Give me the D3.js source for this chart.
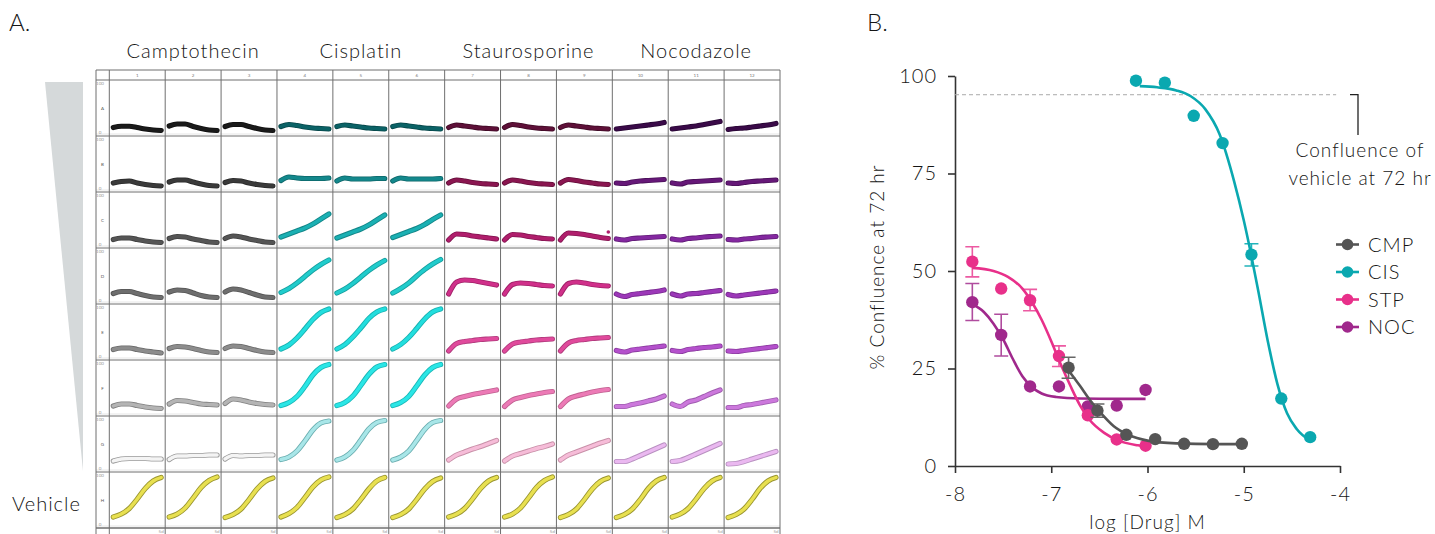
<!DOCTYPE html>
<html>
<head>
<meta charset="utf-8">
<script src="https://cdn.jsdelivr.net/npm/d3@7"></script>
<style>
  body { margin: 0; background: #fff; }
  svg { display: block; font-family: Lato, "Open Sans", sans-serif; font-weight: 300; }
</style>
</head>
<body>
<svg id="fig" width="1435" height="534"></svg>
<script>
// ---------- panel A: % confluence per well over 72 h ----------
const timeH = [0, 12, 24, 36, 48, 60, 72];
const plateRows = ['A', 'B', 'C', 'D', 'E', 'F', 'G', 'H'];
const plateCols = d3.range(1, 13);
const drugNames = ['Camptothecin', 'Cisplatin', 'Staurosporine', 'Nocodazole'];

// rows A..G, three replicate wells each
const cmpWells = [
  [[11,13.5,13.5,11,8,6,5], [14,18,18,13,9,6,5], [13,17,17,13,9,6,5]],
  [[12,15,16,12,9,7,6], [14,18,18,14,10,7,6], [13,17,16,12,9,7,6]],
  [[11,14,14,11,8,6,5], [13,17,16,12,9,6,5], [13,18,16,12,9,6,5]],
  [[15,19,19,15,11,8,7], [18,22,21,16,11,8,7], [18,24,22,17,12,8,7]],
  [[15,18,18,15,12,10,8], [17,21,20,17,13,10,9], [17,22,21,17,13,10,9]],
  [[14,18,18,15,12,10,9], [18,25,24,21,18,17,16], [19,28,26,22,19,17,16]],
  [[16,20,21,21,21,20,20], [19,26,26,27,27,28,28], [20,27,26,27,27,28,28]]
];
const cisWells = [
  [[13,17,15,12,10,9,8], [13,16,14,12,10,9,8], [13,16,14,12,10,9,8]],
  [[17,24,22,21,21,21,22], [16,22,20,20,20,21,21], [16,22,20,20,20,20,21]],
  [[16,22,28,34,42,52,62], [14,20,26,32,40,50,60], [15,21,27,33,41,51,60]],
  [[17,25,36,49,62,73,82], [16,24,35,48,61,72,81], [16,25,36,50,63,74,83]],
  [[16,24,38,56,75,89,96], [16,25,40,58,77,90,96], [16,25,39,57,76,90,96]],
  [[15,21,33,53,76,91,97], [15,21,34,55,77,92,97], [15,21,33,54,76,91,97]],
  [[19,24,36,56,78,92,96], [18,24,37,58,80,93,97], [18,24,36,57,79,93,97]]
];
const stpWells = [
  [[11,16,14,12,10,9,8], [11,17,15,12,10,9,8], [11,16,14,12,10,9,8]],
  [[12,18,16,13,11,10,9], [12,18,16,13,11,10,9], [12,19,17,14,12,10,9]],
  [[10,22,21,18,16,14,12], [10,21,20,17,15,13,12], [10,24,23,21,18,15,13]],
  [[14,38,42,41,38,35,32], [14,33,36,35,33,31,30], [14,35,38,36,33,31,30]],
  [[12,27,31,33,35,36,37], [12,26,30,32,34,35,36], [12,28,33,35,37,38,39]],
  [[14,28,33,37,40,43,46], [13,26,31,35,38,41,43], [13,28,34,38,42,45,47]],
  [[18,28,34,40,45,51,57], [16,26,31,36,41,45,50], [18,28,34,40,46,52,57]]
];
const nocWells = [
  [[8,10,12,14,16,18,21], [8,10,12,14,17,20,23], [7,9,10,12,14,16,19]],
  [[12,11,14,16,17,18,19], [12,10,14,15,16,17,18], [12,11,13,15,16,17,18]],
  [[12,10,13,14,15,16,17], [12,10,13,14,16,17,18], [11,10,12,13,15,16,17]],
  [[14,9,13,15,17,19,22], [14,10,14,15,17,19,21], [13,10,12,14,16,18,20]],
  [[13,10,14,16,18,20,22], [13,11,15,17,19,20,22], [12,11,13,15,17,19,21]],
  [[13,13,17,20,24,28,34], [18,13,22,26,33,40,46], [11,11,15,17,20,23,26]],
  [[15,15,20,27,34,41,48], [15,17,23,30,37,44,51], [10,11,15,20,25,30,35]]
];
// row H, one well per column
const vehicleWells = [
  [16,22,33,52,73,88,95], [16,22,34,54,75,89,96], [15,21,32,51,72,87,94],
  [16,23,35,55,76,90,96], [15,21,32,51,72,88,95], [15,21,32,51,72,87,94],
  [16,22,33,52,73,88,95], [16,22,34,54,75,89,96], [15,21,32,51,72,87,94],
  [15,21,32,51,73,88,95], [16,22,33,52,73,88,95], [15,21,32,51,73,88,95]
];
// a lone late point in well C9
const strayPoints = [{ row: 'C', col: 9, t: 72, v: 26 }];

// shades, dark (high dose, row A) to pale (row G)
const cmpFill = ['#1a1a1a','#3a3a3a','#555555','#6e6e6e','#8c8c8c','#b4b4b4','#f4f4f4'];
const cmpEdge = ['#111111','#2a2a2a','#404040','#555555','#6a6a6a','#808080','#9a9a9a'];
const cisFill = ['#0b6266','#13888c','#1ab0b3','#20cccc','#22dede','#2ae6e6','#a8e6e8'];
const cisEdge = ['#07484b','#0d6669','#138688','#17a0a0','#18b0b0','#1ab8b8','#6aaeb0'];
const stpFill = ['#5e1038','#8a1650','#b01e6c','#d0308a','#e04a9c','#ec7ab6','#f6bcd8'];
const stpEdge = ['#400a26','#640f3a','#851552','#a02168','#b03a7c','#c06090','#c890a8'];
const nocFill = ['#3a0a48','#661878','#8428a0','#9c38b8','#b450cc','#cc78dc','#eab8f0'];
const nocEdge = ['#280634','#4a1058','#621c78','#782890','#8c3ca0','#a05cb0','#b890c0'];
const vehicleFill = '#e8e050', vehicleEdge = '#9a9530';

// ---------- panel B: dose response at 72 h ----------
const cmpDose = [-6.82,-6.52,-6.22,-5.92,-5.62,-5.32,-5.02];
const cmpConf = [25.2,14.2,8.0,6.9,5.7,5.6,5.7];
const cisDose = [-6.12,-5.82,-5.52,-5.22,-4.92,-4.61,-4.31];
const cisConf = [98.8,98.3,89.8,82.8,54.2,17.3,7.4];
const stpDose = [-7.82,-7.52,-7.22,-6.92,-6.62,-6.32,-6.02];
const stpConf = [52.4,45.5,42.5,28.2,13.0,6.8,5.2];
const nocDose = [-7.82,-7.52,-7.22,-6.92,-6.62,-6.32,-6.02];
const nocConf = [42.0,33.6,20.4,20.4,15.3,15.5,19.5];

// error bars [dose, low, high]
const cmpErr = [[-6.82,22.5,27.9], [-6.52,12.5,15.9]];
const cisErr = [[-4.92,51.3,57.0]];
const stpErr = [[-7.82,48.5,56.2], [-7.22,39.8,45.3], [-6.92,25.5,30.8]];
const nocErr = [[-7.82,37.3,46.8], [-7.52,28.2,38.9]];

// fitted curves
const cmpFit = [[-6.82,24.5],[-6.7,20.5],[-6.6,17],[-6.5,14],[-6.35,10.2],[-6.2,8],[-6.0,6.5],[-5.7,5.8],[-5.3,5.6],[-5.0,5.6]];
const cisFit = [[-6.08,97.4],[-5.9,97.1],[-5.7,96.3],[-5.55,94.8],[-5.4,91.5],[-5.25,85],[-5.1,73],[-5.0,63],[-4.93,55],[-4.85,45],[-4.75,32],[-4.65,21],[-4.55,13.5],[-4.45,9.5],[-4.31,6.5]];
const stpFit = [[-7.82,50.8],[-7.6,50],[-7.45,48.5],[-7.3,45.5],[-7.2,42],[-7.1,37.5],[-7.0,32],[-6.9,26],[-6.8,20.5],[-6.7,15.5],[-6.6,11.8],[-6.45,8.5],[-6.3,6.5],[-6.1,5.3],[-6.02,5.0]];
const nocFit = [[-7.82,41.5],[-7.7,39.5],[-7.6,36.5],[-7.5,32.5],[-7.4,27.5],[-7.3,23],[-7.2,20.2],[-7.1,18.6],[-6.95,17.7],[-6.7,17.3],[-6.3,17.2],[-6.02,17.2]];

const vehicleLevel = 95.2;
const seriesNames = ['CMP', 'CIS', 'STP', 'NOC'];
const seriesColors = ['#555555', '#0aa8b0', '#e8308a', '#a0288c'];
const errColors = ['#666666', '#22b4bb', '#ec5aa2', '#b04c9e'];
const yTicks = [0, 25, 50, 75, 100];
const xTicks = [-8, -7, -6, -5, -4];

const svg = d3.select('#fig');
const ink = '#151515';

// ================= panel A =================
svg.append('text').attr('x', 9).attr('y', 31).attr('font-size', 24).attr('fill', ink).text('A.');

const colX = d3.scaleBand().domain(plateCols).range([109.3, 780]);
const rowY = d3.scaleBand().domain(plateRows).range([80, 528]);
const cellT = d3.scaleLinear().domain([0, 72]).range([4, colX.bandwidth() - 4]);
const cellV = d3.scaleLinear().domain([0, 100]).range([rowY.bandwidth() - 3, 3]);

// drug headers over column triplets
drugNames.forEach((name, i) => {
  const cx = (colX(i * 3 + 1) + colX(i * 3 + 3) + colX.bandwidth()) / 2;
  svg.append('text').attr('x', cx).attr('y', 58).attr('text-anchor', 'middle')
    .attr('font-size', 20).attr('letter-spacing', 1).attr('fill', ink).text(name);
});

// dose wedge and vehicle label
svg.append('path').attr('d', 'M45,82 L83,82 L83,471 Z').attr('fill', '#d5d9da');
svg.append('text').attr('x', 12).attr('y', 511).attr('font-size', 20).attr('letter-spacing', 1)
  .attr('fill', ink).text('Vehicle');

const plate = svg.append('g');

// faint baseline in each row
plate.selectAll('line.base').data(plateRows).join('line')
  .attr('x1', 96).attr('x2', 780)
  .attr('y1', r => rowY(r) + cellV(0) + 1).attr('y2', r => rowY(r) + cellV(0) + 1)
  .attr('stroke', '#e6e6e6').attr('stroke-width', 1);

// grid
const gridColor = '#6f6f6f';
plate.selectAll('line.v').data([...plateCols.map(c => colX(c)), 780]).join('line')
  .attr('x1', d => d).attr('x2', d => d).attr('y1', 70).attr('y2', 534)
  .attr('stroke', gridColor).attr('stroke-width', 1);
plate.append('line').attr('x1', 96).attr('x2', 96).attr('y1', 70).attr('y2', 534)
  .attr('stroke', gridColor);
plate.selectAll('line.h').data([70, ...plateRows.map(r => rowY(r)), 528]).join('line')
  .attr('x1', 96).attr('x2', 780).attr('y1', d => d).attr('y2', d => d)
  .attr('stroke', gridColor).attr('stroke-width', d => d === 528 ? 1.3 : 1);

// tiny plate labels
const tiny = plate.append('g').attr('font-size', 4.5).attr('font-weight', 400)
  .attr('fill', '#777').attr('text-anchor', 'middle');
tiny.selectAll('text.col').data(plateCols).join('text')
  .attr('x', c => colX(c) + colX.bandwidth() / 2).attr('y', 77).text(c => c);
plateRows.forEach(r => {
  const top = rowY(r);
  tiny.append('text').attr('x', 102.5).attr('y', top + rowY.bandwidth() / 2 + 2).attr('fill', '#555').text(r);
  tiny.append('text').attr('x', 100).attr('y', top + 5).attr('fill', '#999').text('100');
  tiny.append('text').attr('x', 100).attr('y', top + cellV(0) + 1).attr('fill', '#999').text('0');
});
tiny.selectAll('text.end').data(plateCols).join('text')
  .attr('x', c => colX(c) + colX.bandwidth() - 4).attr('y', 533).attr('fill', '#999').text('5d');

// well traces
const wellLine = d3.line().x((d, i) => cellT(timeH[i])).y(d => cellV(d)).curve(d3.curveMonotoneX);
const groups = [
  { wells: cmpWells, fill: cmpFill, edge: cmpEdge },
  { wells: cisWells, fill: cisFill, edge: cisEdge },
  { wells: stpWells, fill: stpFill, edge: stpEdge },
  { wells: nocWells, fill: nocFill, edge: nocEdge }
];
const traces = [];
groups.forEach((g, gi) => {
  g.wells.forEach((rowWells, ri) => {
    rowWells.forEach((vals, k) => {
      traces.push({ row: plateRows[ri], col: gi * 3 + k + 1, vals, fill: g.fill[ri], edge: g.edge[ri] });
    });
  });
});
vehicleWells.forEach((vals, i) => traces.push({ row: 'H', col: i + 1, vals, fill: vehicleFill, edge: vehicleEdge }));

const tg = plate.selectAll('g.well').data(traces).join('g')
  .attr('transform', d => `translate(${colX(d.col)},${rowY(d.row)})`);
tg.append('path').attr('d', d => wellLine(d.vals)).attr('fill', 'none')
  .attr('stroke', d => d.edge).attr('stroke-width', 5.2).attr('stroke-linecap', 'round');
tg.append('path').attr('d', d => wellLine(d.vals)).attr('fill', 'none')
  .attr('stroke', d => d.fill).attr('stroke-width', 3.4).attr('stroke-linecap', 'round');

plate.selectAll('circle.stray').data(strayPoints).join('circle')
  .attr('cx', d => colX(d.col) + cellT(d.t)).attr('cy', d => rowY(d.row) + cellV(d.v))
  .attr('r', 1.8).attr('fill', stpFill[2]);

// ================= panel B =================
svg.append('text').attr('x', 867).attr('y', 31).attr('font-size', 24).attr('fill', ink).text('B.');

const x = d3.scaleLinear().domain([-8, -4]).range([955, 1340]);
const y = d3.scaleLinear().domain([0, 100]).range([466, 76]);

const yAxis = svg.append('g').attr('transform', `translate(${x(-8)},0)`)
  .call(d3.axisLeft(y).tickValues(yTicks).tickSize(7).tickSizeOuter(0).tickPadding(11));
const xAxis = svg.append('g').attr('transform', `translate(0,${y(0)})`)
  .call(d3.axisBottom(x).tickValues(xTicks).tickSize(7).tickSizeOuter(0).tickPadding(14)
    .tickFormat(d => String(d)));
[yAxis, xAxis].forEach(a => {
  a.select('.domain').attr('stroke', '#333').attr('stroke-width', 1.6);
  a.selectAll('.tick line').attr('stroke', '#333').attr('stroke-width', 1.6);
  a.selectAll('.tick text').attr('font-size', 20).attr('font-family', 'Lato, sans-serif')
    .attr('font-weight', 300).attr('letter-spacing', 1).attr('fill', ink);
});

svg.append('text').attr('x', (x(-8) + x(-4)) / 2).attr('y', 529).attr('text-anchor', 'middle')
  .attr('font-size', 19).attr('letter-spacing', 1).attr('fill', ink).text('log [Drug] M');
svg.append('text').attr('transform', `translate(884,${(y(0) + y(100)) / 2 - 4}) rotate(-90)`)
  .attr('text-anchor', 'middle').attr('font-size', 19).attr('letter-spacing', 1)
  .attr('fill', ink).text('% Confluence at 72 hr');

// vehicle reference line and note
svg.append('line').attr('x1', x(-8)).attr('x2', x(-4.04)).attr('y1', y(vehicleLevel)).attr('y2', y(vehicleLevel))
  .attr('stroke', '#aaa').attr('stroke-width', 1).attr('stroke-dasharray', '4,3');
svg.append('path').attr('d', `M1350,${y(vehicleLevel)} H1358 V135`)
  .attr('fill', 'none').attr('stroke', '#222').attr('stroke-width', 1.3);
svg.append('text').attr('x', 1360).attr('y', 157).attr('text-anchor', 'middle')
  .attr('font-size', 19).attr('letter-spacing', 1).attr('fill', ink).text('Confluence of');
svg.append('text').attr('x', 1360).attr('y', 185).attr('text-anchor', 'middle')
  .attr('font-size', 19).attr('letter-spacing', 1).attr('fill', ink).text('vehicle at 72 hr');

const fitLine = d3.line().x(d => x(d[0])).y(d => y(d[1])).curve(d3.curveMonotoneX);
const series = [
  { dose: cmpDose, conf: cmpConf, err: cmpErr, fit: cmpFit },
  { dose: cisDose, conf: cisConf, err: cisErr, fit: cisFit },
  { dose: stpDose, conf: stpConf, err: stpErr, fit: stpFit },
  { dose: nocDose, conf: nocConf, err: nocErr, fit: nocFit }
];
// draw order: CIS, NOC, STP, CMP (grey sits over pink near the crossing)
[1, 3, 2, 0].forEach(i => {
  const s = series[i];
  const g = svg.append('g');
  g.selectAll('path.err').data(s.err).join('path')
    .attr('d', d => `M${x(d[0]) - 7},${y(d[2])} H${x(d[0]) + 7} M${x(d[0])},${y(d[2])} V${y(d[1])} M${x(d[0]) - 7},${y(d[1])} H${x(d[0]) + 7}`)
    .attr('fill', 'none').attr('stroke', errColors[i]).attr('stroke-width', 1.6);
  g.append('path').attr('d', fitLine(s.fit)).attr('fill', 'none')
    .attr('stroke', seriesColors[i]).attr('stroke-width', 2.6);
  g.selectAll('circle').data(s.dose.map((d, k) => [d, s.conf[k]])).join('circle')
    .attr('cx', d => x(d[0])).attr('cy', d => y(d[1])).attr('r', 6.2).attr('fill', seriesColors[i]);
});

// legend
const legendY = d3.scalePoint().domain(seriesNames).range([244.5, 327]);
const lg = svg.append('g').selectAll('g').data(seriesNames).join('g')
  .attr('transform', d => `translate(1336,${legendY(d)})`);
lg.append('line').attr('x1', 0).attr('x2', 23).attr('stroke', (d, i) => seriesColors[i]).attr('stroke-width', 2.6);
lg.append('circle').attr('cx', 11.5).attr('r', 5.8).attr('fill', (d, i) => seriesColors[i]);
lg.append('text').attr('x', 32).attr('dy', '0.36em').attr('font-size', 20).attr('letter-spacing', 1)
  .attr('fill', ink).text(d => d);
</script>
</body>
</html>
